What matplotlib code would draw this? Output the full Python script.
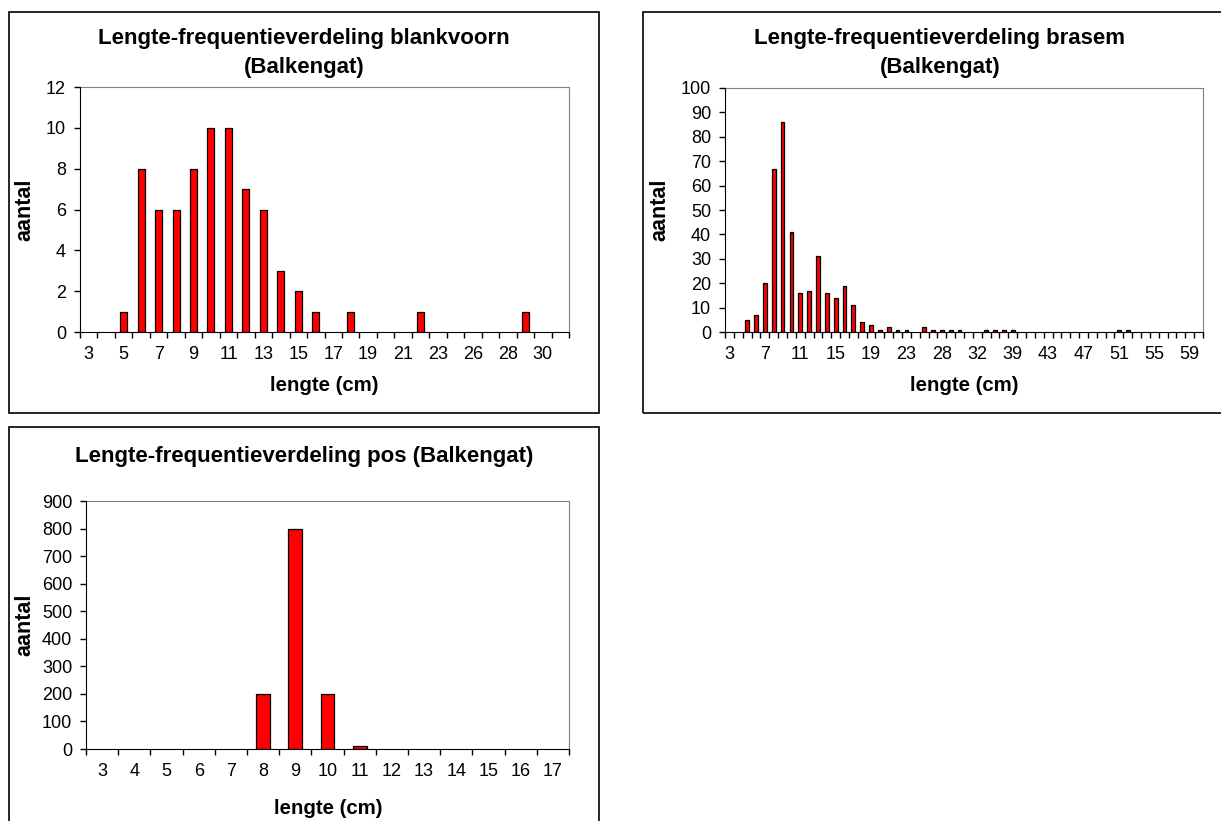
import matplotlib.pyplot as plt
from matplotlib.patches import Rectangle
from matplotlib.ticker import FixedLocator, NullFormatter

plt.rcParams['font.family'] = ['Liberation Sans', 'DejaVu Sans']

# Data (lengte-klassen zijn categorieen, zoals in Excel)
blank_len = list(range(3, 25)) + list(range(26, 32))
blank_cnt = [0, 0, 1, 8, 6, 6, 8, 10, 10, 7, 6, 3, 2, 1, 0, 1, 0, 0, 0, 1, 0, 0,
             0, 0, 0, 1, 0, 0]

brasem_len = list(range(3, 27)) + [28, 29, 30, 31, 32, 34, 36, 37] + list(range(39, 61))
brasem_cnt = [0, 0, 5, 7, 20, 67, 86, 41, 16, 17, 31, 16, 14, 19, 11, 4, 3, 1, 2, 1, 1, 0, 2, 1,
              1, 1, 1, 0, 0, 1, 1, 1,
              1, 0, 0, 0, 0, 0, 0, 0, 0, 0, 0, 0, 1, 1, 0, 0, 0, 0, 0, 0, 0, 0]

pos_len = list(range(3, 18))
pos_cnt = [0, 0, 0, 0, 0, 200, 800, 200, 10, 0, 0, 0, 0, 0, 0]

titles = ["Lengte-frequentieverdeling blankvoorn\n(Balkengat)",
          "Lengte-frequentieverdeling brasem\n(Balkengat)",
          "Lengte-frequentieverdeling pos (Balkengat)"]

W, H = 1221, 821
fig = plt.figure(figsize=(W / 100, H / 100), dpi=100)


def px_box(x0, y0, x1, y1):
    # pixel box (top-left origin) -> figure fractions
    return [x0 / W, 1 - y1 / H, (x1 - x0) / W, (y1 - y0) / H]


def draw(rect, lengths, counts, ymax, ystep, every, bar_w):
    ax = fig.add_axes(px_box(*rect))
    n = len(lengths)
    x = list(range(n))
    # lege klassen krijgen geen rand (Excel toont niets)
    lw = [0.9 if c > 0 else 0 for c in counts]
    ax.bar(x, counts, width=bar_w, color="#FF0000", edgecolor="black", linewidth=lw, zorder=3)
    ax.set_xlim(-0.5, n - 0.5)
    ax.set_ylim(0, ymax)
    ax.set_yticks(range(0, ymax + 1, ystep))
    ax.xaxis.set_major_locator(FixedLocator([i - 0.5 for i in range(n + 1)]))
    ax.xaxis.set_major_formatter(NullFormatter())
    ax.set_xticks(x[::every], minor=True)
    ax.set_xticklabels([str(v) for v in lengths[::every]], minor=True)
    ax.tick_params(axis="x", which="minor", length=0, pad=10, labelsize=13)
    ax.tick_params(axis="x", which="major", length=4, width=1, direction="out")
    ax.tick_params(axis="y", length=4, width=1, direction="out", pad=6, labelsize=13)
    for s in ("top", "right"):
        ax.spines[s].set_color("#808080")
    for s in ("left", "bottom"):
        ax.spines[s].set_color("black")
        ax.spines[s].set_zorder(4)
    return ax


draw((80, 87, 569, 332), blank_len, blank_cnt, 12, 2, 2, 0.4)
draw((725, 88, 1203, 332), brasem_len, brasem_cnt, 100, 10, 4, 0.42)
draw((86, 501, 569, 749), pos_len, pos_cnt, 900, 100, 1, 0.43)

# panel borders
for (x0, y0, x1, y1) in [(9, 12, 599, 413), (643, 12, 1240, 413), (9, 427, 599, 840)]:
    fig.patches.append(Rectangle((x0 / W, 1 - y1 / H), (x1 - x0) / W, (y1 - y0) / H,
                                 transform=fig.transFigure, fill=False,
                                 edgecolor="black", linewidth=1.2))

# titles
fig.text(304 / W, 1 - 53 / H, titles[0], ha="center", va="center", fontsize=16,
         fontweight="bold", linespacing=1.45)
fig.text(940 / W, 1 - 53 / H, titles[1], ha="center", va="center", fontsize=16,
         fontweight="bold", linespacing=1.45)
fig.text(304 / W, 1 - 456 / H, titles[2], ha="center", va="center", fontsize=16,
         fontweight="bold")

# axis labels
for (xl, yl, yx, yy) in [(324, 385, 25, 210), (964, 385, 660, 210), (328, 808, 25, 625)]:
    fig.text(xl / W, 1 - yl / H, "lengte (cm)", ha="center", va="center", fontsize=14.7,
             fontweight="bold")
    fig.text(yx / W, 1 - yy / H, "aantal", ha="center", va="center", fontsize=15.5,
             fontweight="bold", rotation=90)

plt.savefig("out.png", dpi=100)
